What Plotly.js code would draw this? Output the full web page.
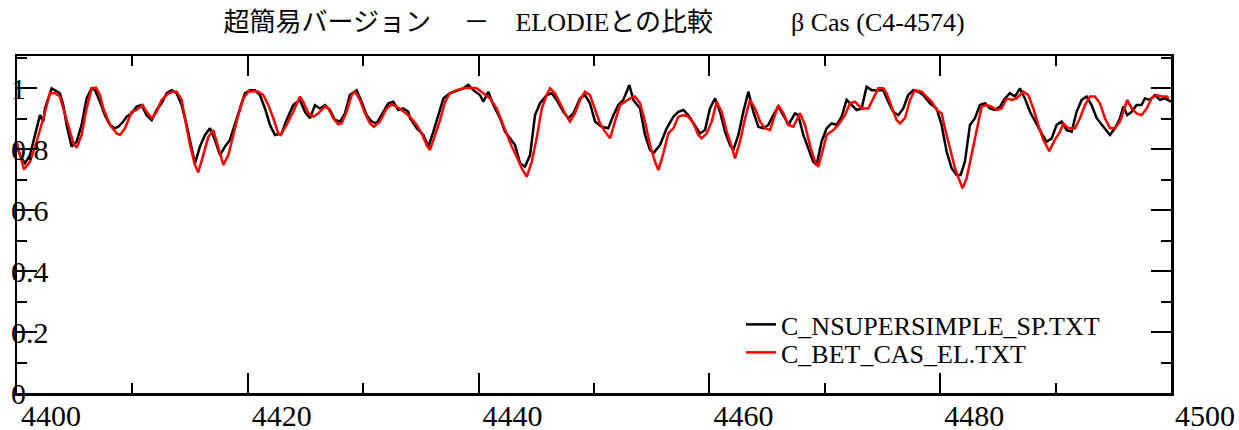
<!DOCTYPE html>
<html>
<head>
<meta charset="utf-8">
<script src="https://cdn.plot.ly/plotly-3.0.1.min.js"></script>
<style>html,body{margin:0;padding:0;background:#fff;}#chart{width:1239px;height:430px;}</style>
</head>
<body>
<div id="chart"></div>
<script>
// Wavelength (Å) and normalized flux
const wlSimple = [4400.00,4400.26,4400.69,4401.12,4401.56,4401.99,4402.28,4402.42,4403.00,4403.43,4403.72,4404.01,4404.30,4404.73,4405.17,4405.60,4406.03,4406.47,4406.76,4407.19,4407.62,4408.06,4408.49,4408.78,4409.21,4409.50,4409.93,4410.37,4410.80,4411.23,4411.67,4412.10,4412.53,4412.97,4413.40,4413.83,4414.27,4414.70,4415.13,4415.42,4415.85,4416.29,4416.72,4417.15,4417.59,4418.02,4418.45,4418.89,4419.32,4419.75,4420.19,4420.62,4421.05,4421.49,4421.92,4422.35,4422.93,4423.36,4423.94,4424.52,4424.95,4425.39,4425.82,4426.25,4426.69,4427.12,4427.55,4427.99,4428.42,4428.85,4429.43,4429.86,4430.30,4430.73,4431.16,4431.74,4432.18,4432.61,4433.04,4433.47,4433.91,
4434.06,4434.63,4435.21,4435.65,4436.08,4436.51,4436.95,4437.52,4438.24,4438.68,4439.11,4439.54,4440.12,4440.41,4440.84,4441.28,4441.86,4442.29,4442.72,4443.16,4443.59,4444.02,4444.46,4444.89,4445.32,4445.90,4446.33,4446.77,4447.34,4447.78,4448.21,4448.79,4449.22,4449.65,4450.09,4450.67,4451.24,4451.68,4452.11,4452.54,4452.83,4453.06,4453.41,4453.99,4454.42,4454.85,4455.14,4455.72,4456.30,4456.88,4457.31,4457.74,4458.18,4458.75,4459.19,4459.62,4460.05,4460.49,4460.92,4461.35,4461.79,4462.08,4462.51,4462.94,4463.38,4463.81,4464.24,4464.68,4465.11,4465.54,4465.97,4466.55,4466.84,4467.42,
4467.70,4468.14,4468.57,4469.00,4469.29,4469.72,4470.16,4470.59,4471.02,4471.46,4471.89,4472.32,4472.76,4473.19,4473.62,4474.06,4474.63,4475.07,4475.50,4475.93,4476.37,4476.80,4477.23,4477.67,4478.10,4478.53,4479.11,4479.69,4480.12,4480.56,4480.99,4481.42,4481.77,4482.14,4482.58,4483.01,4483.44,4483.88,4484.31,4484.74,4485.18,4485.61,4486.04,4486.48,4486.91,4487.34,4487.78,4488.36,4488.79,4489.22,4489.66,4490.09,4490.52,4490.96,4491.39,4491.82,4492.26,4492.69,4493.12,4493.56,4493.99,4494.42,4494.71,4495.14,4495.58,4495.87,4496.21,4496.59,4497.02,4497.45,4497.74,4498.17,4498.61,4499.04,4499.47,4500.00];
const fluxSimple = [0.808,0.780,0.753,0.780,0.846,0.911,0.890,0.933,0.999,0.988,0.983,0.944,0.879,0.808,0.824,0.879,0.966,0.999,0.993,0.955,0.911,0.879,0.868,0.873,0.890,0.906,0.917,0.939,0.944,0.911,0.895,0.928,0.950,0.983,0.993,0.983,0.944,0.879,0.802,0.753,0.808,0.846,0.868,0.830,0.780,0.808,0.830,0.879,0.933,0.983,0.993,0.993,0.977,0.933,0.879,0.846,0.851,0.895,0.944,0.961,0.922,0.901,0.944,0.933,0.944,0.928,0.895,0.890,0.917,0.977,0.993,0.955,0.911,0.890,0.884,0.922,0.950,0.955,0.928,0.933,0.922,
0.901,0.868,0.846,0.808,0.857,0.911,0.966,0.983,0.993,0.999,1.010,0.993,0.977,0.955,0.988,0.944,0.901,0.857,0.835,0.813,0.753,0.742,0.780,0.911,0.950,0.977,0.983,0.961,0.922,0.901,0.917,0.966,0.977,0.950,0.890,0.873,0.868,0.911,0.944,0.961,0.988,1.010,0.961,0.933,0.846,0.797,0.786,0.813,0.868,0.906,0.922,0.928,0.911,0.879,0.851,0.862,0.933,0.966,0.922,0.857,0.813,0.797,0.846,0.922,0.988,0.922,0.873,0.868,0.879,0.911,0.939,0.901,0.879,0.917,
0.911,0.846,0.802,0.758,0.748,0.824,0.868,0.884,0.879,0.906,0.961,0.944,0.928,0.933,1.004,0.993,0.993,0.993,0.955,0.922,0.911,0.933,0.977,0.993,0.988,0.977,0.950,0.933,0.879,0.791,0.737,0.715,0.715,0.758,0.879,0.901,0.944,0.950,0.933,0.928,0.939,0.966,0.983,0.972,0.999,0.966,0.922,0.879,0.851,0.824,0.835,0.879,0.890,0.862,0.857,0.922,0.961,0.972,0.944,0.901,0.879,0.857,0.846,0.868,0.901,0.939,0.911,0.922,0.944,0.944,0.966,0.961,0.977,0.961,0.966,0.955];

const wlElodie = [4400.00,4400.60,4401.12,4401.70,4402.28,4402.86,4403.29,4403.72,4404.01,4404.44,4404.88,4405.17,4405.60,4406.03,4406.47,4406.84,4407.19,4407.48,4408.06,4408.63,4408.92,4409.36,4409.93,4410.37,4410.89,4411.23,4411.67,4412.10,4412.53,4412.97,4413.40,4413.83,4414.27,4414.55,4414.99,4415.42,4415.71,4416.14,4416.58,4417.01,4417.44,4417.88,4418.31,4418.74,4419.18,4419.61,4420.04,4420.48,4420.91,4421.34,4421.78,4422.21,4422.64,4422.84,4423.36,4423.94,4424.52,4424.81,4425.24,4425.68,4426.11,4426.69,4426.98,4427.41,4427.84,4428.13,4428.56,4429.00,4429.29,4429.72,4430.15,4430.59,4430.93,4431.45,4432.03,4432.46,4432.90,4433.33,4434.05,
4434.63,4435.07,4435.50,4435.79,4436.22,4436.66,4437.09,4437.52,4438.10,4438.68,4439.26,4439.83,4440.41,4440.99,4441.57,4442.00,4442.43,4442.87,4443.30,4443.73,4444.17,4444.60,4445.03,4445.47,4445.90,4446.19,4446.62,4447.05,4447.49,4447.92,4448.35,4448.79,4449.22,4449.65,4450.09,4450.52,4450.95,4451.39,4451.82,4452.25,4452.69,4453.12,4453.55,4453.99,4454.42,4454.85,4455.29,4455.58,4456.01,4456.44,4456.88,4457.31,4457.74,4458.18,4458.61,4459.04,4459.33,4459.76,4460.20,4460.63,4461.06,4461.50,4461.93,4462.22,4462.65,4463.09,4463.52,4463.95,4464.39,4464.82,4465.25,4465.69,4465.97,4466.41,4466.84,4467.27,
4467.85,4468.28,4468.71,4469.15,4469.44,4469.87,4470.16,4470.74,4471.17,4471.75,4472.18,4472.61,4473.19,4473.77,4474.20,4474.63,4475.07,4475.36,4475.79,4476.22,4476.51,4476.95,4477.38,4477.81,4478.39,4478.82,4479.26,4479.69,4480.12,4480.41,4480.85,4481.28,4481.71,4481.94,4482.29,4482.72,4483.16,4483.59,4484.02,4484.46,4484.89,4485.32,4485.76,4486.19,4486.62,4487.20,4487.63,4488.07,4488.50,4488.93,4489.45,4489.94,4490.38,4490.67,4491.10,4491.68,4492.11,4492.54,4492.98,4493.41,4493.84,4494.28,4494.71,4495.14,4495.58,4495.87,4496.21,4496.59,4497.02,4497.45,4497.89,4498.32,4498.75,4499.19,4499.62,4499.80];
const fluxElodie = [0.819,0.733,0.758,0.824,0.901,0.983,0.983,0.972,0.933,0.879,0.819,0.804,0.846,0.933,0.999,1.001,0.977,0.933,0.879,0.851,0.846,0.868,0.922,0.928,0.944,0.922,0.901,0.922,0.961,0.977,0.988,0.988,0.961,0.901,0.813,0.748,0.723,0.780,0.840,0.862,0.802,0.748,0.780,0.846,0.911,0.966,0.988,0.990,0.988,0.977,0.944,0.901,0.851,0.846,0.879,0.922,0.972,0.955,0.917,0.906,0.917,0.939,0.933,0.901,0.881,0.884,0.922,0.977,0.988,0.961,0.917,0.884,0.873,0.890,0.933,0.946,0.939,0.928,0.906,
0.879,0.851,0.813,0.797,0.846,0.895,0.955,0.983,0.993,0.999,1.001,0.999,0.983,0.966,0.933,0.890,0.846,0.808,0.775,0.737,0.709,0.758,0.835,0.933,0.977,0.999,0.983,0.950,0.917,0.890,0.917,0.961,0.988,0.977,0.933,0.884,0.857,0.835,0.890,0.944,0.955,0.966,0.972,0.950,0.890,0.813,0.758,0.731,0.786,0.851,0.868,0.906,0.911,0.906,0.884,0.846,0.835,0.851,0.890,0.955,0.922,0.857,0.808,0.769,0.824,0.901,0.961,0.933,0.890,0.868,0.862,0.911,0.944,0.917,0.879,0.873,
0.917,0.879,0.813,0.758,0.742,0.802,0.846,0.862,0.879,0.911,0.950,0.955,0.933,0.933,0.966,0.999,0.999,0.983,0.939,0.895,0.884,0.901,0.961,0.993,0.988,0.972,0.955,0.928,0.917,0.868,0.802,0.737,0.693,0.671,0.704,0.780,0.868,0.939,0.944,0.939,0.928,0.933,0.966,0.961,0.966,0.988,0.977,0.933,0.879,0.830,0.793,0.830,0.857,0.884,0.868,0.868,0.901,0.944,0.972,0.972,0.950,0.901,0.868,0.868,0.890,0.922,0.961,0.933,0.917,0.911,0.933,0.966,0.977,0.972,0.972,0.965];

const seriesNames = ['C_NSUPERSIMPLE_SP.TXT', 'C_BET_CAS_EL.TXT'];
const xTickVals = [4400, 4420, 4440, 4460, 4480, 4500];
const xTickText = ['4400', '4420', '4440', '4460', '4480', '4500'];
const yTickVals = [0, 0.2, 0.4, 0.6, 0.8, 1];
const yTickText = ['0', '0.2', '0.4', '0.6', '0.8', '1'];
const chartTitle = '超簡易バージョン　 －　ELODIEとの比較　　　β Cas (C4-4574)';

const serif = '"Liberation Serif", "Times New Roman", "Noto Sans CJK JP", serif';

const traces = [
  {x: wlSimple, y: fluxSimple, name: seriesNames[0], type: 'scatter', mode: 'lines',
   line: {color: '#000000', width: 2.5}, legend: 'legend'},
  {x: wlElodie, y: fluxElodie, name: seriesNames[1], type: 'scatter', mode: 'lines',
   line: {color: '#ff0000', width: 2.5}, legend: 'legend2'}
];

const axisCommon = {
  showline: true, linecolor: '#000', linewidth: 2.5, mirror: 'ticks',
  ticks: 'inside', ticklen: 20, tickwidth: 2, tickcolor: '#000',
  showgrid: false, zeroline: false,
  tickfont: {family: serif, size: 30, color: '#000'}
};

const legendCommon = {x: 0.6274, xanchor: 'left', yanchor: 'top', bgcolor: 'rgba(0,0,0,0)',
  borderwidth: 0, font: {family: serif, size: 26, color: '#000'}};

const layout = {
  width: 1239, height: 430,
  margin: {l: 17, r: 68, t: 56, b: 37},
  paper_bgcolor: '#fff', plot_bgcolor: '#fff',
  title: {text: chartTitle, font: {family: serif, size: 26, color: '#000'},
          x: 0.5, xref: 'paper', y: 0.95, yref: 'container', yanchor: 'middle'},
  xaxis: Object.assign({}, axisCommon, {
    range: [4400, 4500], tickmode: 'array', tickvals: xTickVals, ticktext: xTickText,
    ticklabelshift: 34, ticklabelstandoff: -6, ticklabeloverflow: 'allow',
    minor: {dtick: 10, tick0: 4400, ticks: 'inside', ticklen: 10, tickwidth: 2, tickcolor: '#000', showgrid: false}
  }),
  yaxis: Object.assign({}, axisCommon, {
    range: [0, 1.105], tickmode: 'array', tickvals: yTickVals, ticktext: yTickText,
    ticklabelposition: 'inside', ticklabelstandoff: -23, ticklabeloverflow: 'allow',
    minor: {dtick: 0.1, tick0: 0, ticks: 'inside', ticklen: 10, tickwidth: 2, tickcolor: '#000', showgrid: false}
  }),
  showlegend: true,
  legend: Object.assign({}, legendCommon, {y: 0.273}),
  legend2: Object.assign({}, legendCommon, {y: 0.190})
};

Plotly.newPlot('chart', traces, layout, {staticPlot: true, displayModeBar: false});
</script>
</body>
</html>
